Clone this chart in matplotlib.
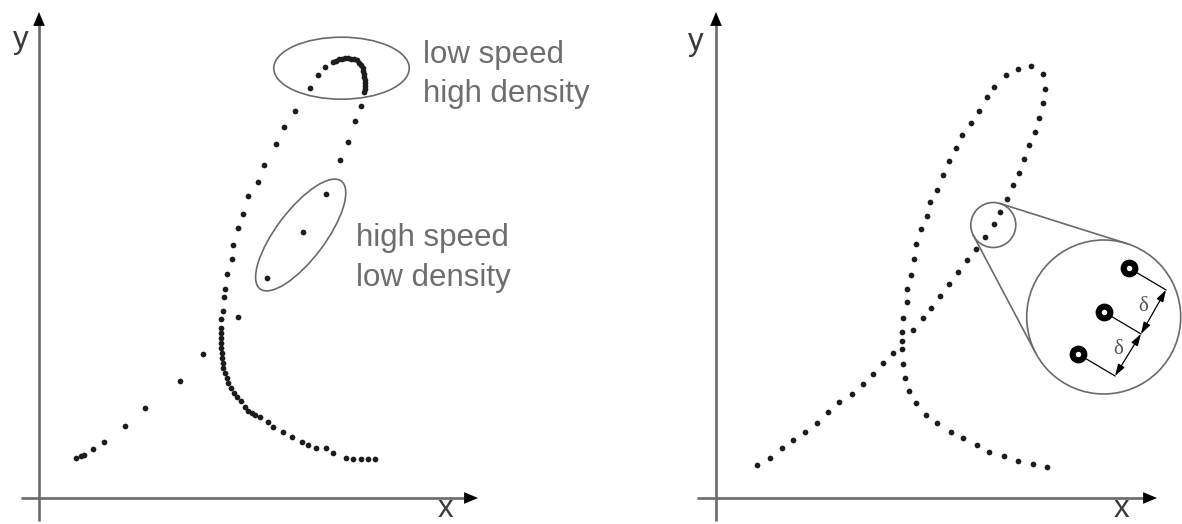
import numpy as np
import matplotlib.pyplot as plt
from matplotlib.patches import Ellipse, Circle

""" DATA """
# left: samples of a trajectory taken at a fixed time step
left_x = [3.70, 4.17, 4.50, 5.43, 6.53, 8.63, 10.63, 14.10, 16.43, 19.87, 22.83,
          26.43, 28.70, 30.13, 30.93, 31.60, 32.20, 32.53,
          32.55, 32.55, 32.55, 32.55, 32.53, 32.50, 32.43, 32.35, 32.20, 32.00,
          31.75, 31.45, 31.15, 30.85, 30.55, 30.25, 29.95, 29.65, 29.40,
          28.60, 27.87, 27.10, 25.60, 24.53, 23.67, 22.53, 21.87, 20.93, 20.43,
          19.87, 19.43, 19.33, 18.77, 18.60, 18.50, 18.37, 18.20, 18.20, 18.20,
          18.20, 18.20, 18.23, 18.27, 18.33, 18.37, 18.43, 18.57, 18.77, 18.93,
          19.17, 19.50, 19.77, 20.20, 20.60, 20.93, 21.27, 21.60, 22.10, 22.93,
          23.43, 24.43, 25.27, 26.27, 26.93, 27.70, 28.70, 29.43, 30.70, 31.43,
          32.20, 32.93, 33.60]
left_y = [4.03, 4.20, 4.33, 4.87, 5.57, 7.20, 8.97, 11.73, 14.37, 18.13, 21.97,
          26.57, 30.37, 33.77, 35.60, 37.67, 39.23, 40.57,
          40.90, 41.20, 41.50, 41.80, 42.10, 42.40, 42.70, 43.00, 43.30, 43.55,
          43.80, 43.90, 43.95, 43.97, 43.97, 43.95, 43.90, 43.75, 43.60,
          43.13, 42.30, 40.97, 38.70, 37.13, 35.40, 33.30, 31.63, 30.20, 28.43,
          26.97, 25.27, 23.87, 22.37, 20.87, 20.07, 18.73, 17.87, 16.97, 16.47,
          15.97, 15.47, 14.97, 14.47, 13.97, 13.47, 12.97, 12.47, 11.97, 11.47,
          10.97, 10.47, 10.13, 9.70, 9.13, 8.73, 8.47, 8.30, 8.13, 7.63,
          7.13, 6.63, 6.13, 5.63, 5.30, 4.97, 4.97, 4.47, 4.03, 3.87,
          3.87, 3.87, 3.87]

# right: the same curve resampled at equal arc length
right_x = [4.13, 5.40, 6.57, 7.73, 8.90, 10.07, 11.17, 12.33, 13.57, 14.67,
           15.67, 16.67, 17.70, 18.60, 19.70, 20.67, 21.50, 22.40, 23.33, 24.23,
           25.13, 25.97, 26.90, 27.77, 28.43, 29.07, 29.73, 30.27, 30.80, 31.33,
           31.93, 32.33, 32.67, 32.93, 32.73, 31.50, 30.23, 28.97, 27.80, 27.07,
           26.33, 25.47, 24.63, 23.97, 23.33, 22.67, 22.13, 21.40, 21.07, 20.47,
           19.97, 19.77, 19.53, 19.10, 19.10, 18.70, 18.60, 18.63, 18.70, 18.87,
           19.30, 19.97, 20.97, 22.07, 23.47, 24.73, 26.10, 27.33, 28.83, 30.17,
           31.73, 33.13]
right_y = [3.27, 4.03, 4.97, 5.80, 6.63, 7.53, 8.63, 9.63, 10.37, 11.37,
           12.43, 13.47, 14.47, 15.73, 16.80, 17.97, 19.03, 20.23, 21.37, 22.60,
           23.80, 24.93, 26.13, 27.37, 28.63, 29.90, 31.27, 32.53, 33.90, 35.33,
           36.60, 38.03, 39.53, 40.93, 42.40, 43.20, 42.90, 42.30, 41.13, 40.07,
           38.70, 37.53, 36.27, 34.97, 33.73, 32.30, 30.77, 29.63, 28.23, 26.87,
           25.37, 23.93, 22.33, 20.90, 19.57, 17.97, 16.57, 14.93, 13.37, 12.03,
           10.67, 9.47, 8.33, 7.47, 6.63, 5.97, 5.27, 4.63, 4.23, 3.70,
           3.37, 3.10]

# magnified view: three consecutive samples, spacing delta
ring_x = [36.2, 38.8, 41.3]
ring_y = [14.4, 18.6, 23.0]
delta_label = '\u03b4'

TXT = '#6e6e6e'
LINE = '#6a6a6a'
SANS = ['Liberation Sans', 'DejaVu Sans']


def draw_axes(ax, x_start, x_tip):
    ax.plot([0, 0], [-2.3, 47.4], color=LINE, lw=1.9, solid_capstyle='butt')
    ax.plot([x_start, x_tip - 1.2], [0, 0], color=LINE, lw=1.9, solid_capstyle='butt')
    head = dict(arrowstyle='-|>,head_length=1.0,head_width=0.42', mutation_scale=10,
                fc='black', ec='black', lw=0, shrinkA=0, shrinkB=0)
    ax.annotate('', xy=(0, 48.6), xytext=(0, 40), arrowprops=head)
    ax.annotate('', xy=(x_tip, 0), xytext=(x_tip - 8, 0), arrowprops=head)


def tangent_lines(c1, r1, c2, r2):
    c1, c2 = np.array(c1), np.array(c2)
    d = c2 - c1
    ang = np.arctan2(d[1], d[0])
    phi = np.arccos((r2 - r1) / np.hypot(*d))
    out = []
    for s in (1, -1):
        n = np.array([np.cos(ang + s * phi), np.sin(ang + s * phi)])
        out.append((c1 - r1 * n, c2 - r2 * n))
    return out


fig = plt.figure(figsize=(11.82, 5.24), dpi=100)
ax1 = fig.add_axes([0, 0, 0.5, 1])
ax2 = fig.add_axes([0.5, 0, 0.5, 1])
for ax, x0 in ((ax1, 3.9), (ax2, 12.5)):
    ax.set_xlim(-x0, -x0 + 59.1)
    ax.set_ylim(-2.6, 49.8)
    ax.axis('off')

fs = 22.5
dot = dict(s=17, color='#1c1c1c', lw=0, zorder=3)

# ---- left panel
draw_axes(ax1, -1.8, 43.9)
ax1.scatter(left_x, left_y, **dot)
ax1.add_patch(Ellipse((30.25, 42.98), 13.55, 6.2, fill=False, ec=LINE, lw=1.2))
ax1.add_patch(Ellipse((26.17, 26.3), 13.5, 4.9, angle=53, fill=False, ec=LINE, lw=1.2))
ax1.text(38.4, 43.45, 'low speed', fontsize=fs, color=TXT, family=SANS, va='baseline')
ax1.text(38.4, 39.6, 'high density', fontsize=fs, color=TXT, family=SANS, va='baseline')
ax1.text(31.7, 25.24, 'high speed', fontsize=fs, color=TXT, family=SANS, va='baseline')
ax1.text(31.7, 21.23, 'low density', fontsize=fs, color=TXT, family=SANS, va='baseline')
ax1.text(-2.6, 44.97, 'y', fontsize=fs, color='#3a3a3a', family=SANS, va='baseline')
ax1.text(39.9, -2.58, 'x', fontsize=fs, color='#3a3a3a', family=SANS, va='bottom')

# ---- right panel
draw_axes(ax2, -1.9, 44.1)
ax2.scatter(right_x, right_y, **dot)
ax2.text(-2.8, 44.8, 'y', fontsize=fs, color='#3a3a3a', family=SANS, va='baseline')
ax2.text(39.8, -2.58, 'x', fontsize=fs, color='#3a3a3a', family=SANS, va='bottom')

small_c, small_r = (27.73, 27.3), 2.25
big_c, big_r = (38.77, 18.1), 7.7
ax2.add_patch(Circle(small_c, small_r, fill=False, ec=LINE, lw=1.2))
ax2.add_patch(Circle(big_c, big_r, fill=False, ec=LINE, lw=1.2, zorder=2))
for p1, p2 in tangent_lines(small_c, small_r, big_c, big_r):
    ax2.plot([p1[0], p2[0]], [p1[1], p2[1]], color=LINE, lw=1.2)

# rings with dimension line
rx, ry = np.array(ring_x), np.array(ring_y)
u = np.array([rx[-1] - rx[0], ry[-1] - ry[0]])
u = u / np.hypot(*u)
perp = np.array([u[1], -u[0]])
ex, ey = rx + 4.3 * perp[0], ry + 4.3 * perp[1]
for i in range(3):
    ax2.plot([rx[i], ex[i]], [ry[i], ey[i]], color='black', lw=0.9, zorder=4)
for i in range(2):
    ax2.annotate('', xy=(ex[i], ey[i]), xytext=(ex[i + 1], ey[i + 1]),
                 arrowprops=dict(arrowstyle='<|-|>,head_length=0.7,head_width=0.22',
                                 mutation_scale=10, color='black', lw=0.9,
                                 shrinkA=0, shrinkB=0), zorder=4)
    mx = (ex[i] + ex[i + 1]) / 2 - 1.15 * perp[0]
    my = (ey[i] + ey[i + 1]) / 2 - 1.15 * perp[1]
    ax2.text(mx, my, delta_label, fontsize=15, color='#555555',
             family=['Liberation Serif', 'DejaVu Serif'], ha='center', va='center')
ax2.plot(rx, ry, 'o', ms=8.4, mfc='white', mec='black', mew=4.4, ls='none', zorder=5)

fig.savefig('out.png', dpi=100, facecolor='white')
